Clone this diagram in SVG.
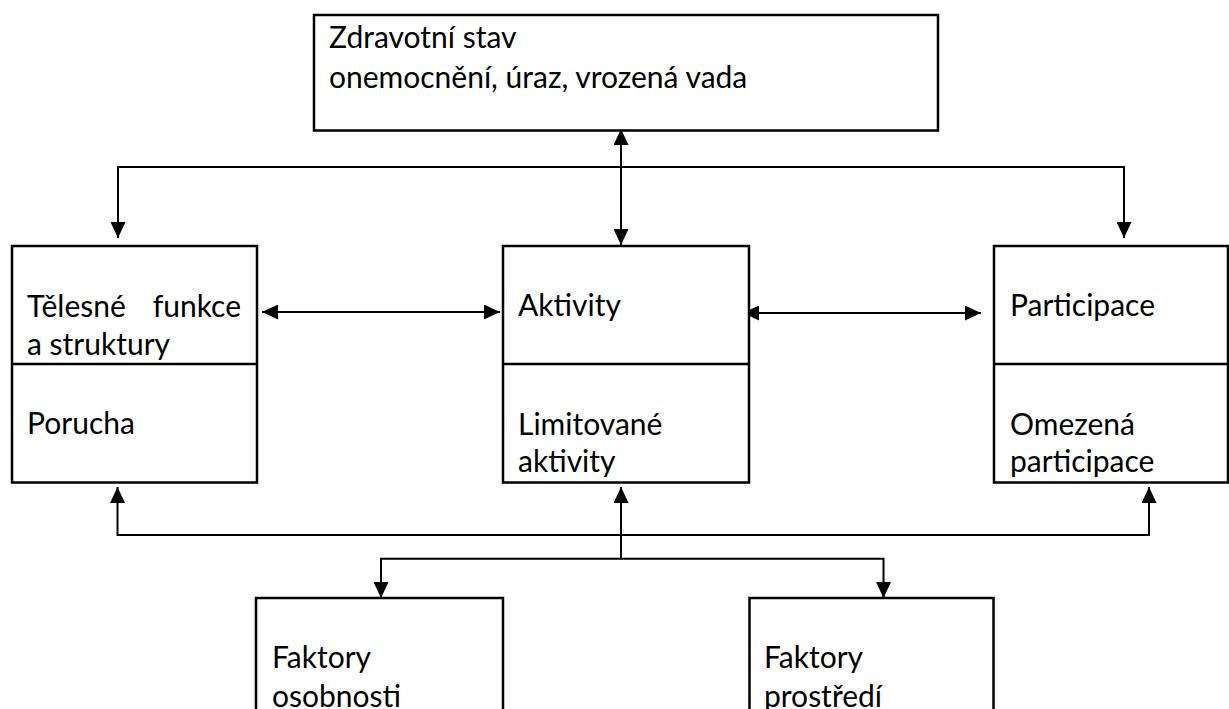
<svg xmlns="http://www.w3.org/2000/svg" width="1229" height="709" viewBox="0 0 1229 709">
<style>
.box{fill:#fff;stroke:#000;stroke-width:2.5}
.div{stroke:#000;stroke-width:2.5}
.con{fill:none;stroke:#000;stroke-width:2}
.t{font-family:Lato,"Liberation Sans",sans-serif;font-size:30px;fill:#000}
</style>
<defs>
<marker id="ah" markerUnits="userSpaceOnUse" markerWidth="16" markerHeight="15" refX="16" refY="7.5" orient="auto-start-reverse" viewBox="0 0 16 15">
<path d="M0,0 L16,7.5 L0,15 z" fill="#000"/>
</marker>
</defs>
<rect width="1229" height="709" fill="#fff"/>
<g id="connectors">
<path class="con" d="M621,129 V245" marker-start="url(#ah)" marker-end="url(#ah)"/>
<path class="con" d="M118,238 V167 H1124 V238" marker-start="url(#ah)" marker-end="url(#ah)"/>
<path class="con" d="M262,312 H500" marker-start="url(#ah)" marker-end="url(#ah)"/>
<path class="con" d="M743,313 H981" marker-start="url(#ah)" marker-end="url(#ah)"/>
<path class="con" d="M117.5,487 V535 H1149 V487" marker-start="url(#ah)" marker-end="url(#ah)"/>
<path class="con" d="M621,558.7 V487" marker-end="url(#ah)"/>
<path class="con" d="M381,598 V558.7 H883.5 V598" marker-start="url(#ah)" marker-end="url(#ah)"/>
</g>
<g id="zdravotni-stav">
<rect class="box" x="314" y="15" width="624" height="115.5"/>
<text class="t" x="329" y="48">Zdravotní stav</text>
<text class="t" x="329" y="88">onemocnění, úraz, vrozená vada</text>
</g>
<g id="telesne-funkce">
<rect class="box" x="12" y="246" width="245" height="236.5"/>
<line class="div" x1="12" y1="364" x2="257" y2="364"/>
<text class="t" x="27" y="317">Tělesné</text>
<text class="t" x="241" y="317" text-anchor="end">funkce</text>
<text class="t" x="27" y="355">a struktury</text>
<text class="t" x="27" y="434">Porucha</text>
</g>
<g id="aktivity">
<rect class="box" x="503" y="246" width="246" height="236.5"/>
<line class="div" x1="503" y1="364" x2="749" y2="364"/>
<text class="t" x="518" y="316">Aktivity</text>
<text class="t" x="518" y="435">Limitované</text>
<text class="t" x="518" y="472">aktivity</text>
</g>
<g id="participace">
<rect class="box" x="994" y="246" width="234" height="236.5"/>
<line class="div" x1="994" y1="364" x2="1228" y2="364"/>
<text class="t" x="1010" y="316">Participace</text>
<text class="t" x="1010" y="435">Omezená</text>
<text class="t" x="1010" y="472">participace</text>
</g>
<g id="faktory-osobnosti">
<rect class="box" x="256" y="598" width="247" height="130"/>
<text class="t" x="272" y="668">Faktory</text>
<text class="t" x="272" y="707">osobnosti</text>
</g>
<g id="faktory-prostredi">
<rect class="box" x="749.5" y="598" width="244" height="130"/>
<text class="t" x="764" y="668">Faktory</text>
<text class="t" x="764" y="707">prostředí</text>
</g>
</svg>
